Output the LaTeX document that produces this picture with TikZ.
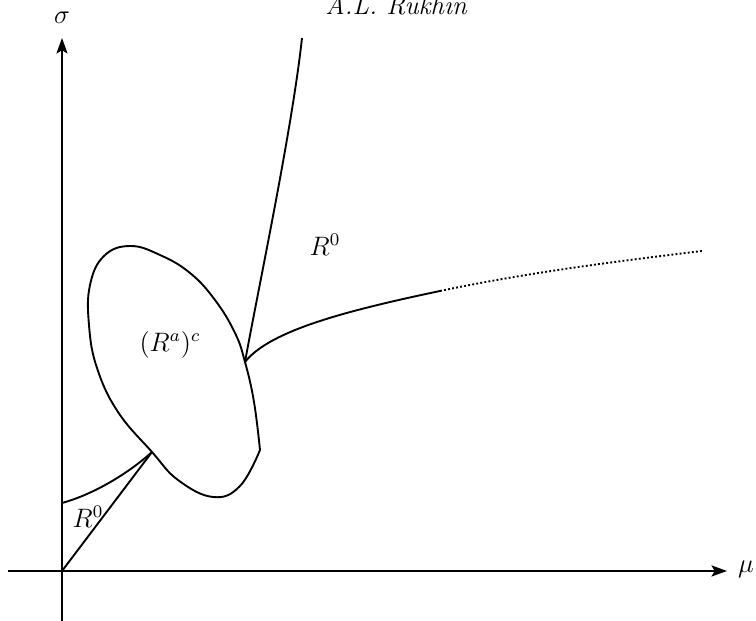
\documentclass[tikz,border=0pt]{standalone}
\usetikzlibrary{arrows.meta}
\begin{document}
\begin{tikzpicture}[x=0.45pt,y=-0.45pt,
  curve/.style={line width=0.85pt, line join=round},
  axis/.style={line width=0.85pt,-{Stealth[length=7pt,width=5pt,inset=1.5pt]}},
  lbl/.style={inner sep=0pt, font=\large}]
\useasboundingbox (0,0) rectangle (756,621);
% key points
\coordinate (O) at (62,571);
\coordinate (ybot) at (62,621);
\coordinate (ytop) at (62,38);
\coordinate (xleft) at (8,571);
\coordinate (xright) at (727,571);
\coordinate (cross) at (152,452);
\coordinate (cusp) at (245,362);
\coordinate (vtop) at (302,38);
\coordinate (ax) at (62,503);
\coordinate (corner) at (260,450);
\coordinate (solidend) at (440,291);
\coordinate (dotend) at (702,251);
% axes
\draw[axis] (ybot) -- (ytop);
\draw[axis] (xleft) -- (xright);
\node[lbl] (sigma) at (62,18) {$\sigma$};
\node[lbl] (mu) at (746,569) {$\mu$};
\node[lbl,anchor=base] (author) at (396,15) {\itshape A.L. Rukhin};
% lower region boundaries
\draw[curve] (O) -- (cross);
\draw[curve] (ax) .. controls (95,494) and (130,472) .. (cross);
% loop
\draw[curve] plot[smooth, tension=0.7] coordinates {
  (corner) (254,402) (cusp) (235,333) (215,300) (190,273) (160,255) (130,246)
  (104,256) (90,285) (89,325) (97,368) (118,412) (cross)
  (178,480) (213,497) (240,486) (corner)};
% upper boundary
\draw[curve] (cusp) .. controls (258,290) and (292,130) .. (vtop);
% right boundary
\draw[curve] (cusp) .. controls (270,330) and (350,310) .. (solidend);
\draw[curve, densely dotted] (solidend) .. controls (530,272) and (620,261) .. (dotend);
% labels
\node[lbl] (r0up) at (325,245) {$R^0$};
\node[lbl] (rac) at (170,345) {$(R^a)^c$};
\node[lbl] (r0low) at (88,517) {$R^0$};
\end{tikzpicture}
\end{document}
